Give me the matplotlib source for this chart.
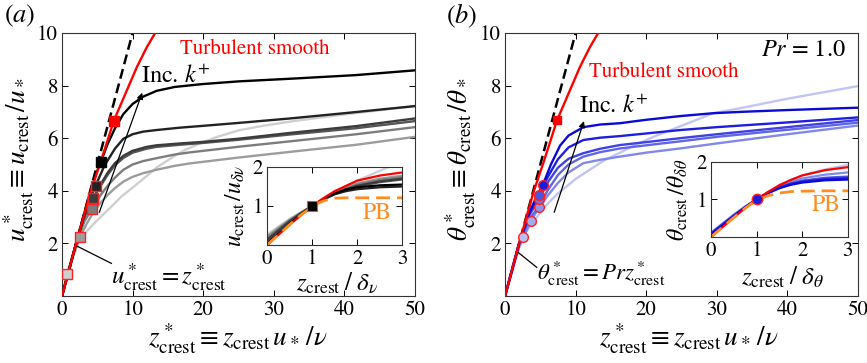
import numpy as np
import matplotlib
matplotlib.use('Agg')
import matplotlib.pyplot as plt

plt.rcParams['font.family'] = ['STIXGeneral', 'Liberation Serif', 'DejaVu Serif']
plt.rcParams['mathtext.fontset'] = 'stix'


# ---- panel (a): velocity, grey curves (darkest = largest k+) ----
z_k1 = [0, 2, 3.2, 4, 4.7, 5.48, 6.5, 7.5, 8.7, 10, 11.5, 13.4, 16, 20, 25, 33, 41.7, 50]
u_k1 = [0, 2, 3.18, 3.93, 4.55, 5.09, 5.8, 6.37, 6.92, 7.3, 7.58, 7.8, 7.95, 8.06, 8.16, 8.27, 8.4, 8.58]
z_k2 = [0, 2, 3, 3.8, 4.77, 6, 7.5, 8.7, 10, 11.5, 13.4, 16.7, 20, 25, 32.3, 40, 50]
u_k2 = [0, 2, 2.95, 3.6, 4.2, 4.95, 5.6, 5.98, 6.15, 6.25, 6.31, 6.4, 6.47, 6.58, 6.75, 6.95, 7.22]
z_k3 = [0, 2, 3, 3.8, 4.45, 5.5, 6.5, 7.5, 8.7, 10, 12, 13.4, 16.7, 20, 25, 32.3, 41.7, 50]
u_k3 = [0, 2, 2.9, 3.42, 3.73, 4.25, 4.7, 5.05, 5.33, 5.52, 5.67, 5.73, 5.8, 5.86, 5.98, 6.2, 6.46, 6.75]
z_k4 = [0, 2, 3, 3.7, 4.34, 5.5, 6.5, 7.5, 8.7, 10, 12, 13.4, 16.7, 20, 25, 32.3, 41.7, 50]
u_k4 = [0, 2, 2.88, 3.36, 3.69, 4.2, 4.62, 4.97, 5.25, 5.45, 5.6, 5.67, 5.75, 5.82, 5.94, 6.14, 6.38, 6.65]
z_k5 = [0, 2, 3.2, 4.25, 5.5, 6.5, 7.5, 8.7, 10, 11.5, 13.4, 16, 18.1, 25.2, 32.3, 41.7, 50]
u_k5 = [0, 1.98, 2.85, 3.32, 3.85, 4.2, 4.5, 4.8, 5.0, 5.13, 5.24, 5.38, 5.46, 5.68, 5.88, 6.15, 6.42]
z_k6 = [0, 1.5, 2.55, 3.5, 4.5, 5.5, 6.5, 7.5, 8.7, 10, 11.5, 13.4, 16, 18.1, 25.2, 32.3, 41.7, 50]
u_k6 = [0, 1.45, 2.23, 2.75, 3.2, 3.55, 3.85, 4.1, 4.35, 4.53, 4.67, 4.8, 4.95, 5.04, 5.27, 5.48, 5.75, 6.05]
z_k7 = [0, 0.66, 1.5, 2.5, 3.5, 4.4, 5.85, 7, 8.5, 10, 11.5, 13.5, 15.8, 17.5, 19.5, 22, 25.2, 28.5, 32.3, 37, 43, 50]
u_k7 = [0, 0.84, 1.55, 2.1, 2.45, 2.72, 3.1, 3.4, 3.8, 4.12, 4.45, 4.9, 5.3, 5.56, 5.8, 6.05, 6.31, 6.47, 6.63, 6.8, 7.0, 7.22]
grey_cols = ['#000000', '#222222', '#3c3c3c', '#555555', '#7c7c7c', '#9c9c9c', '#cfcfcf']

# markers at z = delta_nu on each curve
mk_z_a = [5.48, 4.77, 4.45, 4.34, 4.25, 2.55, 0.66]
mk_u_a = [5.09, 4.2, 3.73, 3.69, 3.32, 2.23, 0.84]

# turbulent smooth wall
z_sm = [0, 2, 4, 5.5, 6.5, 7.32, 9, 10.6, 12, 13.2]
u_sm = [0, 2, 3.92, 5.12, 5.95, 6.65, 7.7, 8.7, 9.45, 10]
z_sm_mk, u_sm_mk = 7.32, 6.65
z_sm_mk_b, u_sm_mk_b = 7.41, 6.69
z_lin = [0, 10.5]

# inset (a)
zi_a = [0, 0.25, 0.5, 0.75, 1, 1.25, 1.5, 1.75, 2, 2.5, 3]
ui_k1 = [0.03, 0.28, 0.53, 0.78, 1.0, 1.18, 1.32, 1.42, 1.48, 1.53, 1.55]
ui_k2 = [0.05, 0.29, 0.54, 0.78, 1.0, 1.17, 1.3, 1.38, 1.43, 1.48, 1.5]
ui_k3 = [0.12, 0.36, 0.6, 0.81, 1.0, 1.17, 1.32, 1.43, 1.52, 1.63, 1.7]
ui_k4 = [0.14, 0.38, 0.61, 0.81, 1.0, 1.17, 1.31, 1.42, 1.5, 1.61, 1.68]
ui_k5 = [0.18, 0.41, 0.63, 0.82, 1.0, 1.18, 1.33, 1.45, 1.55, 1.67, 1.74]
ui_k6 = [0.22, 0.44, 0.65, 0.83, 1.0, 1.18, 1.34, 1.47, 1.58, 1.7, 1.78]
zi_k7 = [0, 0.25, 0.5, 0.75, 1, 1.5, 2, 2.5, 2.7]
ui_k7 = [0.27, 0.47, 0.67, 0.84, 1.0, 1.35, 1.65, 1.9, 2.0]
zi_sm = [0, 0.5, 1, 1.25, 1.5, 2, 2.5, 3]
ui_sm = [0, 0.52, 1.0, 1.2, 1.38, 1.65, 1.78, 1.86]
zi_pb = [0, 0.25, 0.5, 0.75, 1.0, 1.15, 1.3, 1.5, 1.75, 3]
ui_pb = [0, 0.26, 0.52, 0.77, 0.98, 1.08, 1.15, 1.2, 1.21, 1.21]

# ---- panel (b): temperature, blue curves ----
z_b1 = [0, 2, 3.5, 4.5, 5.34, 6.5, 7.8, 9, 11.1, 13.5, 16.3, 20, 24.8, 29.5, 33.3, 40, 50]
t_b1 = [0, 2, 3.2, 3.8, 4.21, 5.0, 5.72, 6.1, 6.42, 6.52, 6.57, 6.7, 6.84, 6.95, 7.0, 7.07, 7.16]
z_b2 = [0, 2, 3.5, 4.82, 6, 7.5, 9, 11.1, 13.5, 16.3, 20, 24.8, 30, 40, 50]
t_b2 = [0, 2, 3.2, 3.84, 4.5, 5.2, 5.65, 5.93, 6.02, 6.08, 6.18, 6.31, 6.42, 6.6, 6.79]
z_b3 = [0, 2, 3.5, 4.82, 6, 7.5, 9, 11.1, 13.5, 16.3, 20, 24.8, 30, 40, 50]
t_b3 = [0, 2, 3.1, 3.68, 4.3, 4.88, 5.22, 5.43, 5.6, 5.74, 5.85, 6.0, 6.15, 6.42, 6.69]
z_b4 = [0, 2, 3.5, 4.82, 6, 7.5, 9, 11.1, 13.5, 16.3, 20, 24.8, 30, 40, 50]
t_b4 = [0, 2, 2.95, 3.4, 4.0, 4.6, 5.0, 5.3, 5.47, 5.61, 5.73, 5.88, 6.05, 6.32, 6.59]
z_b5 = [0, 2, 3.64, 4.8, 6, 7.5, 9, 11.1, 13.5, 16.3, 20, 24.8, 30, 40, 50]
t_b5 = [0, 1.85, 2.85, 3.35, 3.8, 4.3, 4.7, 5.05, 5.18, 5.3, 5.45, 5.61, 5.8, 6.15, 6.48]
z_b6 = [0, 1.5, 2.5, 3.5, 4.8, 6, 7.5, 8.7, 10, 12, 14, 16.3, 18.5, 21, 24.8, 29.5, 33.3, 40, 50]
t_b6 = [0, 1.5, 2.23, 2.65, 3.1, 3.5, 3.9, 4.16, 4.45, 4.8, 5.15, 5.45, 5.75, 6.05, 6.45, 6.95, 7.14, 7.5, 7.98]
blue_cols = ['#0a0ad6', '#1e1ee0', '#4040e4', '#6066e8', '#8088ec', '#c0c5f5']
mk_face_b = ['#1a1ae0', '#4a55e0', '#6d76e6', '#8c95ec', '#a5adf0', '#b8c0f2']
mk_z_b = [5.34, 4.82, 4.82, 4.82, 3.64, 2.5]
mk_t_b = [4.21, 3.84, 3.68, 3.4, 2.85, 2.23]

# inset (b)
zi_b = [0, 0.25, 0.5, 0.75, 1, 1.25, 1.5, 1.75, 2, 2.5, 3]
ti_b1 = [0.06, 0.3, 0.55, 0.79, 1.0, 1.17, 1.3, 1.39, 1.45, 1.51, 1.53]
ti_b2 = [0.08, 0.32, 0.56, 0.79, 1.0, 1.17, 1.31, 1.41, 1.47, 1.54, 1.56]
ti_b3 = [0.09, 0.33, 0.57, 0.8, 1.0, 1.18, 1.32, 1.42, 1.49, 1.56, 1.59]
ti_b4 = [0.1, 0.34, 0.58, 0.8, 1.0, 1.18, 1.33, 1.43, 1.5, 1.58, 1.61]
ti_b5 = [0.11, 0.35, 0.59, 0.81, 1.0, 1.19, 1.35, 1.47, 1.56, 1.66, 1.72]
ti_b6 = [0.12, 0.36, 0.6, 0.81, 1.0, 1.2, 1.38, 1.52, 1.64, 1.8, 1.92]
ti_sm = [0, 0.26, 0.52, 0.77, 1.0, 1.2, 1.38, 1.52, 1.64, 1.78, 1.86]
ti_pb = [0, 0.26, 0.52, 0.77, 0.98, 1.1, 1.17, 1.21, 1.22, 1.23, 1.23]


def style(ax, fs=15):
    ax.tick_params(direction='in', top=True, right=True, length=4, width=0.7,
                   labelsize=fs, pad=3)
    for s in ax.spines.values():
        s.set_linewidth(0.8)
        s.set_color('#333333')


fig = plt.figure(figsize=(8.67, 3.63), dpi=100)

# ================= (a) =================
ax1 = fig.add_axes([0.0715, 0.1846, 0.407, 0.7245])
ax1.plot(z_lin, z_lin, color='k', lw=1.8, dashes=(4, 2), zorder=1)
z_all = [z_k7, z_k6, z_k5, z_k4, z_k3, z_k2, z_k1]
u_all = [u_k7, u_k6, u_k5, u_k4, u_k3, u_k2, u_k1]
for zz, uu, c in zip(z_all, u_all, grey_cols[::-1]):
    ax1.plot(zz, uu, color=c, lw=1.7, zorder=2)
ax1.plot(z_sm, u_sm, color='#ff0000', lw=1.7, zorder=3)
for zz, uu, c in zip(mk_z_a[::-1], mk_u_a[::-1], grey_cols[::-1]):
    ax1.plot(zz, uu, 's', ms=6.5, mfc=c, mec='#ff2020' if c != '#000000' else 'k', mew=1.0, zorder=4)
ax1.plot(z_sm_mk, u_sm_mk, 's', ms=6.5, mfc='#ff0000', mec='#ff0000', zorder=4)
ax1.set_xlim(0, 50)
ax1.set_ylim(0, 10)
ax1.set_xticks([0, 10, 20, 30, 40, 50])
ax1.set_yticks([0, 2, 4, 6, 8, 10])
ax1.set_yticklabels(['', '2', '4', '6', '8', '10'])
style(ax1)
ax1.set_xlabel(r'$z^*_{\rm crest} \equiv z_{\rm crest}\,u_*\,/\nu$', fontsize=19.5)
ax1.xaxis.set_label_coords(0.5, -0.1)
ax1.set_ylabel(r'$u^*_{\rm crest} \equiv u_{\rm crest}\,/u_*$', fontsize=19.5)
ax1.yaxis.set_label_coords(-0.075, 0.52)
ax1.text(16.7, 9.38, 'Turbulent smooth', color='#ff0000', fontsize=15, va='center')
ax1.annotate('', xy=(11.5, 7.83), xytext=(5.15, 3.08),
             arrowprops=dict(arrowstyle='-|>', color='k', lw=0.9, mutation_scale=9))
ax1.text(11.2, 8.35, r'Inc. $k^{+}$', fontsize=17.5, va='center')
ax1.plot([2.1, 7.0], [1.9, 1.24], color='k', lw=0.9)
ax1.text(6.9, 0.73, r'$u^*_{\rm crest} = z^*_{\rm crest}$', fontsize=18, va='center')
fig.text(0.023, 0.955, r'$(a)$', fontsize=19, ha='center', va='center')

ia = fig.add_axes([0.308, 0.325, 0.156, 0.215])
ui_all = [ui_k6, ui_k5, ui_k4, ui_k3, ui_k2, ui_k1]
for uu, c in zip(ui_all, grey_cols[::-1][1:]):
    ia.plot(zi_a, uu, color=c, lw=1.6)
ia.plot(zi_k7, ui_k7, color=grey_cols[6], lw=1.6, zorder=1)
ia.plot(zi_sm, ui_sm, color='#ff0000', lw=1.6)
ia.plot(zi_pb, ui_pb, color='#ff8c1e', lw=2.0, dashes=(5, 2.5))
ia.plot(1, 1, 's', ms=7, mfc='k', mec='#ff4040', mew=0.8, zorder=5)
ia.set_xlim(0, 3)
ia.set_ylim(0, 2)
ia.set_xticks([0, 1, 2, 3])
ia.set_yticks([0, 1, 2])
ia.set_yticklabels(['', '1', '2'])
style(ia)
ia.set_xlabel(r'$z_{\rm crest}\;/\;\delta_\nu$', fontsize=18)
ia.xaxis.set_label_coords(0.52, -0.34)
ia.set_ylabel(r'$u_{\rm crest}\,/u_{\delta\nu}$', fontsize=17)
ia.yaxis.set_label_coords(-0.15, 0.5)
ia.text(2.13, 0.82, 'PB', color='#ff8c1e', fontsize=17, va='center')

# ================= (b) =================
ax2 = fig.add_axes([0.5825, 0.1846, 0.407, 0.7245])
ax2.plot(z_lin, z_lin, color='k', lw=1.8, dashes=(4, 2), zorder=1)
zb_all = [z_b6, z_b5, z_b4, z_b3, z_b2, z_b1]
tb_all = [t_b6, t_b5, t_b4, t_b3, t_b2, t_b1]
for zz, tt, c in zip(zb_all, tb_all, blue_cols[::-1]):
    ax2.plot(zz, tt, color=c, lw=1.7, zorder=2)
ax2.plot(z_sm, u_sm, color='#ff0000', lw=1.7, zorder=3)
for zz, tt, c in zip(mk_z_b[::-1], mk_t_b[::-1], mk_face_b[::-1]):
    ax2.plot(zz, tt, 'o', ms=7, mfc=c, mec='#ff2020', mew=1.0, zorder=4)
ax2.plot(z_sm_mk_b, u_sm_mk_b, 's', ms=6, mfc='#ff0000', mec='#ff0000', zorder=4)
ax2.set_xlim(0, 50)
ax2.set_ylim(0, 10)
ax2.set_xticks([0, 10, 20, 30, 40, 50])
ax2.set_yticks([0, 2, 4, 6, 8, 10])
ax2.set_yticklabels(['', '2', '4', '6', '8', '10'])
style(ax2)
ax2.set_xlabel(r'$z^*_{\rm crest} \equiv z_{\rm crest}\,u_*\,/\nu$', fontsize=19.5)
ax2.xaxis.set_label_coords(0.52, -0.1)
ax2.set_ylabel(r'$\theta^*_{\rm crest} \equiv \theta_{\rm crest}\,/\theta_*$', fontsize=19.5)
ax2.yaxis.set_label_coords(-0.078, 0.52)
ax2.text(11.9, 8.5, 'Turbulent smooth', color='#ff0000', fontsize=15, va='center')
ax2.text(48.3, 9.35, r'$Pr$ = 1.0', fontsize=17.5, ha='right', va='center')
ax2.annotate('', xy=(11.3, 6.75), xytext=(6.85, 3.08),
             arrowprops=dict(arrowstyle='-|>', color='k', lw=0.9, mutation_scale=9))
ax2.text(10.5, 7.2, r'Inc. $k^{+}$', fontsize=17.5, va='center')
ax2.plot([1.89, 4.49], [1.65, 1.09], color='k', lw=0.9)
ax2.text(4.6, 0.86, r'$\theta^*_{\rm crest} = Pr z^*_{\rm crest}$', fontsize=16.5, va='center')
fig.text(0.532, 0.955, r'$(b)$', fontsize=19, ha='center', va='center')

ib = fig.add_axes([0.820, 0.347, 0.158, 0.207])
tib_all = [ti_b6, ti_b5, ti_b4, ti_b3, ti_b2, ti_b1]
for tt, c in zip(tib_all, blue_cols[::-1]):
    ib.plot(zi_b, tt, color=c, lw=1.6)
ib.plot(zi_b, ti_sm, color='#ff0000', lw=1.6)
ib.plot(zi_b, ti_pb, color='#ff8c1e', lw=2.0, dashes=(5, 2.5))
ib.plot(1, 1, 'o', ms=7.5, mfc='#1a1ae0', mec='#ff2020', mew=1.0, zorder=5)
ib.set_xlim(0, 3)
ib.set_ylim(0, 2)
ib.set_xticks([0, 1, 2, 3])
ib.set_yticks([0, 1, 2])
ib.set_yticklabels(['', '1', '2'])
style(ib)
ib.set_xlabel(r'$z_{\rm crest}\;/\;\delta_\theta$', fontsize=18)
ib.xaxis.set_label_coords(0.52, -0.38)
ib.set_ylabel(r'$\theta_{\rm crest}\,/\theta_{\delta\theta}$', fontsize=17)
ib.yaxis.set_label_coords(-0.15, 0.5)
ib.text(2.2, 0.85, 'PB', color='#ff8c1e', fontsize=17, va='center')

fig.savefig('out.png', dpi=100)
